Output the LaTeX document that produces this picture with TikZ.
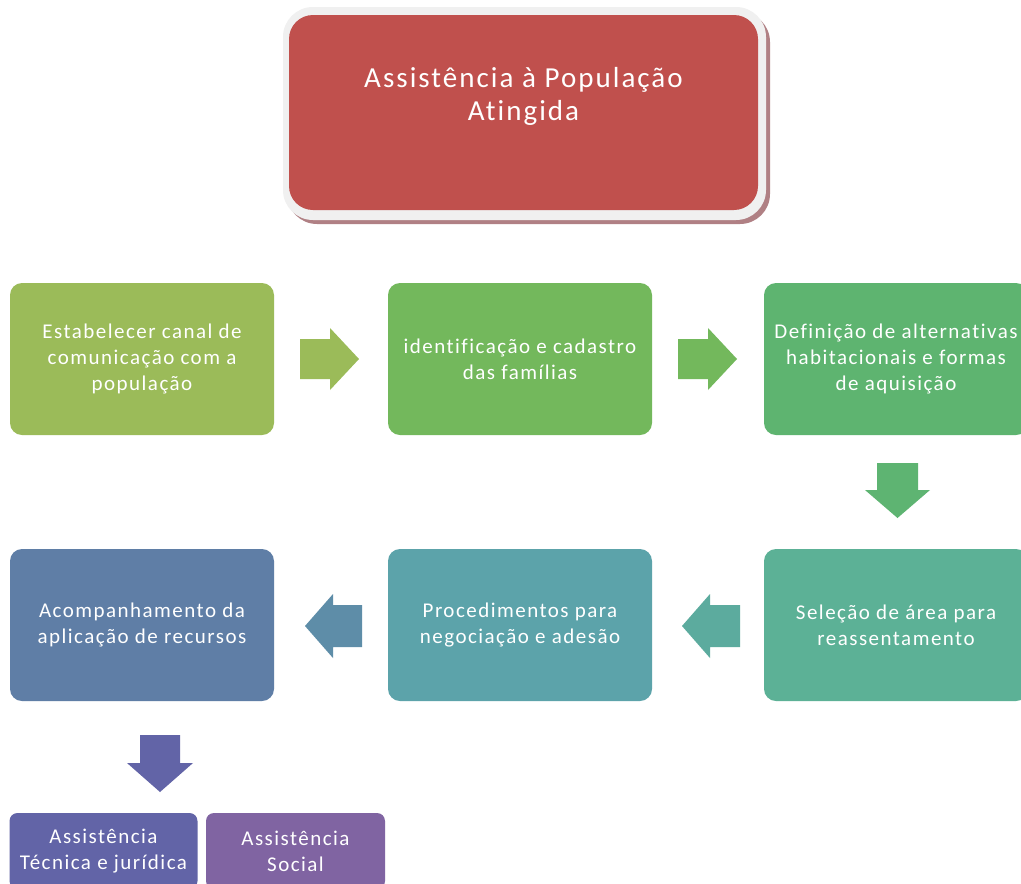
\documentclass[tikz,border=0pt]{standalone}
\usepackage{fontspec}
\setmainfont{Carlito}[LetterSpace=7, Ligatures=NoCommon]
\begin{document}
\begin{tikzpicture}[x=1pt,y=-1pt]
\definecolor{titlered}{RGB}{192,80,77}
\definecolor{titleshadow}{RGB}{176,128,132}
\definecolor{framegrey}{RGB}{240,240,240}
\definecolor{cA}{RGB}{155,187,89}
\definecolor{cB}{RGB}{115,184,92}
\definecolor{cC}{RGB}{94,180,112}
\definecolor{cD}{RGB}{92,177,150}
\definecolor{cE}{RGB}{92,163,170}
\definecolor{cF}{RGB}{95,126,166}
\definecolor{cG}{RGB}{98,100,167}
\definecolor{cH}{RGB}{128,100,162}
\tikzset{
  stepbox/.style={rounded corners=12pt, minimum width=264pt, minimum height=152pt,
    inner sep=0pt, text=white, align=center, font=\fontsize{21}{26}\selectfont},
  subbox/.style={rounded corners=8pt, minimum height=76pt,
    inner sep=0pt, text=white, align=center, font=\fontsize{21}{26}\selectfont},
}
\useasboundingbox (0,0) rectangle (1021,884);
\fill[white] (0,0) rectangle (1021,884);
\begin{scope}
\clip (0,0) rectangle (1021,884);

% title block: shadow, light frame, red panel
\fill[titleshadow, rounded corners=30pt] (287,12) rectangle (770,224);
\fill[framegrey, rounded corners=30pt] (283,7) rectangle (766,220);
\node[fill=titlered, rounded corners=24pt, minimum width=469pt, minimum height=195pt,
  inner sep=0pt] (title) at (523.5,112.5) {};
\node[text=white, align=center, font=\fontsize{29}{33}\selectfont] (titletext) at (523.5,96)
  {Assistência à População\\Atingida};

% first row
\node[stepbox, fill=cA] (b1) at (142,359) {Estabelecer canal de\\comunicação com a\\população};
\node[stepbox, fill=cB] (b2) at (520,359) {identificação e cadastro\\das famílias};
\node[stepbox, fill=cC] (b3) at (896,359) {Definição de alternativas\\habitacionais e formas\\de aquisição};

% second row
\node[stepbox, fill=cD] (b4) at (896,625) {Seleção de área para\\reassentamento};
\node[stepbox, fill=cE] (b5) at (520,625) {Procedimentos para\\negociação e adesão};
\node[stepbox, fill=cF] (b6) at (142,625) {Acompanhamento da\\aplicação de recursos};

% bottom pair
\node[subbox, fill=cG, minimum width=188pt] (s1) at (103.5,851) {Assistência\\Técnica e jurídica};
\node[subbox, fill=cH, minimum width=179pt] (s2) at (295.5,851) {Assistência\\Social};

% block arrows between the steps
\fill[cA] (300,339) -- (330,339) -- (330,328) -- (359,359) -- (330,390) -- (330,379) -- (300,379) -- cycle;
\fill[cB] (678,339) -- (708,339) -- (708,328) -- (737,359) -- (708,390) -- (708,379) -- (678,379) -- cycle;
\fill[cC!95!cD] (877,463) -- (918,463) -- (918,490) -- (930,490) -- (897.5,518) -- (865,490) -- (877,490) -- cycle;
\fill[cD!60!cE] (740,605) -- (710,605) -- (710,594) -- (682,626) -- (710,658) -- (710,647) -- (740,647) -- cycle;
\fill[cE!40!cF] (362,605) -- (333,605) -- (333,594) -- (305,626) -- (333,658) -- (333,647) -- (362,647) -- cycle;
\fill[cG] (140,735) -- (180,735) -- (180,763) -- (193,763) -- (160,792) -- (127,763) -- (140,763) -- cycle;
\end{scope}
\end{tikzpicture}
\end{document}
